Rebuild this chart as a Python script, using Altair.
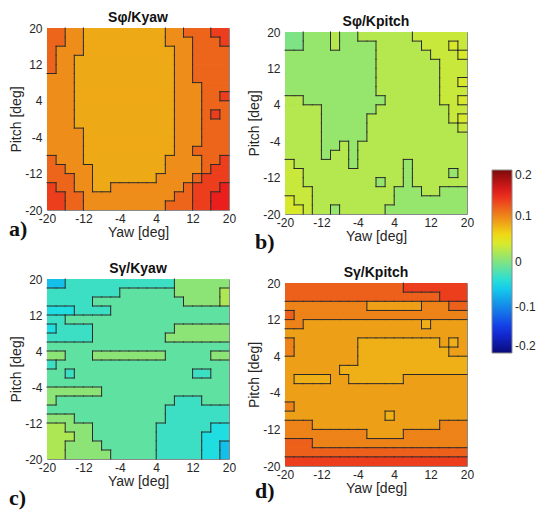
import altair as alt
import pandas as pd
from collections import Counter

YAW_TICKS = [-20, -12, -4, 4, 12, 20]
PITCH_TICKS = [-20, -12, -4, 4, 12, 20]
CBAR_TICKS = [-0.2, -0.1, 0, 0.1, 0.2]
TITLES = ["Sφ/Kyaw", "Sφ/Kpitch", "Sγ/Kyaw", "Sγ/Kpitch"]
LETTERS = ["a)", "b)", "c)", "d)"]

# contour levels (value of each band), one letter per band
A_LEVELS = {"D": 0.150, "R": 0.135, "r": 0.116, "o": 0.096, "y": 0.082}
B_LEVELS = {"G": -0.002, "g": 0.009, "h": 0.023, "k": 0.032, "m": 0.039}
C_LEVELS = {"B": -0.067, "a": -0.045, "b": -0.032, "c": -0.016, "e": 0.0045, "f": 0.020}
D_LEVELS = {"R": 0.135, "r": 0.118, "o": 0.101, "y": 0.087, "Y": 0.079}

# band of each 2x2 deg cell; rows from pitch +20 down to -20, columns yaw -20 .. +20
A_GRID = [
    "rrooyyyyyyyyyoorrrRR",
    "rrooyyyyyyyyyooorrrR",
    "roooyyyyyyyyyyoorrrr",
    "rooyyyyyyyyyyyoorrrr",
    "rooyyyyyyyyyyyoorrrr",
    "oooyyyyyyyyyyyoorrrr",
    "oooyyyyyyyyyyyooorrr",
    "oooyyyyyyyyyyyooorrR",
    "oooyyyyyyyyyyyooorrr",
    "oooyyyyyyyyyyyooorRr",
    "oooyyyyyyyyyyyooorrr",
    "ooooyyyyyyyyyyooorrr",
    "ooooyyyyyyyyyyooorrr",
    "ooooyyyyyyyyyyoorrrr",
    "roooyyyyyyyyyoooorrR",
    "rroooyyyyyyyyoooorRR",
    "rrrooyyyyyyyoooorRRR",
    "RrrooyyoooooooorRRRD",
    "RRrroooooooooorrRRDD",
    "RRrrooooooooorrrRRDD",
]
B_GRID = [
    "GGggghgghhhhhhkkkkkk",
    "GGggghgggghhhhhkkkmk",
    "gggggggggghhhhhhkkkm",
    "gggggggggghhhhhhhkkk",
    "gggggggggghhhhhhhkkk",
    "gggggggggghhhhhhhkkm",
    "gggggggggghhhhhhhkkk",
    "hhggggggggghhhhhhkkm",
    "hhhhgggggghhhhhhhhkk",
    "hhhhggggghhhhhhhhhkm",
    "hhhhggggghhhhhhhhhhk",
    "hhhhggggghhhhhhhhhhh",
    "hhhhgghghhhhhhhhhhhh",
    "hhhhghhghhhhhhhhhhhh",
    "khhhhhhghhhhhghhhhhh",
    "kkhhhhhhhhhhhghhhhgh",
    "kkhhhhhhhhghhghhhhhh",
    "kkkhhhhhhhhhggghhggg",
    "mkkhhhhhhhhhgggggggg",
    "mmkhhghhhhhggggggggg",
]
C_GRID = [
    "BBbbbbbbbbbbbbeeeeee",
    "bbbbbbbbcccccceeeeef",
    "bbbbbcccccccccceeeef",
    "aaabbbbccccccccccccc",
    "bbcccccccccccccccccc",
    "abbbbccccccccceeeeee",
    "bbbbbcccccccceeeeeee",
    "cccccccccccccccccccc",
    "eeccceeeeeeeecccccee",
    "bccccccccccccccccccc",
    "ccbcccccccccccccbbcc",
    "cccccccccccccccccccc",
    "eeeeeecccccccccccccc",
    "ecccccccccccccbbbccc",
    "cccccccccccccbbbbbbb",
    "eeeccccccccccbbbbbbb",
    "ffeeecccccccbbbbbbaa",
    "fffeecccccccbbbbbaaa",
    "ffeeeeccccccbbbbbaaB",
    "ffeeeeecccccbbbbbaaB",
]
D_GRID = [
    "rrrrrrrrrrrrrRRRRRRR",
    "rrrrrrrrrrrrrrrrrRRR",
    "oooooooooyyyyyyooorr",
    "rooooooooooooooooooo",
    "ooyyyyyyyyyyyyyYyyyy",
    "yyyyyyyyyyyyyyyyyyyy",
    "oyyyyyyyYYYYYYYYYyYy",
    "oyyyyyyyYYYYYYYYYYyy",
    "yyyyyyyyYYYYYYYYYYYY",
    "yyyyyyYYYYYYYYYYYYYY",
    "yYYYYyyYYYYYYyyyyyyy",
    "yyyyyyyyyyyyyyyyyyyy",
    "yyyyyyyyyyyyyyyyyyyy",
    "oyyyyyyyyyyyyyyyyyyy",
    "yyyyyyyyyyyYyyyyyyyy",
    "oooyyyyyyyyyyyyyyooo",
    "oooooooooyyyyooooooo",
    "rrrooooooooooooooooo",
    "rrrrrrrrrrrrrrrrrrrr",
    "RRRRRRRRRRRRRRRRRRRR",
]

JET_STOPS = [-0.2, -0.15, -0.05, 0.05, 0.15, 0.2]
JET_COLORS = ["#0a0a78", "#1430e6", "#14dceb", "#f0eb14", "#eb1e1e", "#7d0a0a"]

CELL = 2


def cells(grid, levels):
    rows = []
    for r, line in enumerate(grid):
        c = 0
        while c < len(line):
            code = line[c]
            c2 = c
            while c2 + 1 < len(line) and line[c2 + 1] == code:
                c2 += 1
            rows.append({
                "x0": -20 + CELL * c, "x1": -20 + CELL * (c2 + 1),
                "y0": 20 - CELL * r, "y1": 20 - CELL * (r + 1),
                "v": levels[code],
            })
            c = c2 + 1
    return pd.DataFrame(rows)


def base(grid, levels):
    # whole-panel backdrop in the most frequent band (hides seams between cells)
    code = Counter("".join(grid)).most_common(1)[0][0]
    return pd.DataFrame([{"x0": -20, "x1": 20, "y0": 20, "y1": -20, "v": levels[code]}])


def edges(grid):
    segs = []
    n = len(grid)
    m = len(grid[0])
    for r in range(n):
        for c in range(m):
            if c + 1 < m and grid[r][c] != grid[r][c + 1]:
                xv = -20 + CELL * (c + 1)
                segs.append({"x0": xv, "x1": xv, "y0": 20 - CELL * r, "y1": 20 - CELL * (r + 1)})
            if r + 1 < n and grid[r][c] != grid[r + 1][c]:
                yv = 20 - CELL * (r + 1)
                segs.append({"x0": -20 + CELL * c, "x1": -20 + CELL * (c + 1), "y0": yv, "y1": yv})
    return pd.DataFrame(segs)


FONT = "Liberation Sans"
TXT = "#262626"


def axis(title, values, label_pad, title_pad):
    return alt.Axis(values=values, title=title, ticks=False, domain=False, grid=False,
                    labelFont=FONT, titleFont=FONT, labelFontSize=12, titleFontSize=14,
                    titleFontWeight="normal", labelColor=TXT, titleColor=TXT,
                    labelPadding=label_pad, titlePadding=title_pad, labelFlush=False,
                    labelOverlap=False, labelExpr="'' + datum.value")


color_scale = alt.Scale(domain=JET_STOPS, range=JET_COLORS, interpolate="rgb")
legend = alt.Legend(type="gradient", orient="none", legendX=445, legendY=142, direction="vertical",
                    gradientLength=183, gradientThickness=20, title=None,
                    values=CBAR_TICKS, labelFont=FONT, labelFontSize=12, labelColor=TXT,
                    labelExpr="'' + datum.value", labelOffset=3,
                    gradientStrokeColor="#8a8a8a", gradientStrokeWidth=1)


def panel(i, grid, levels, w, h, lx, ly):
    xs = alt.Scale(domain=[-20, 20], nice=False, zero=False)
    ys = alt.Scale(domain=[-20, 20], nice=False, zero=False)
    X = alt.X("x0:Q", scale=xs, axis=axis("Yaw [deg]", YAW_TICKS, 3, 1))
    Y = alt.Y("y0:Q", scale=ys, axis=axis("Pitch [deg]", PITCH_TICKS, 5, 1))
    data = cells(grid, levels)
    enc = dict(x=X, x2="x1:Q", y=Y, y2="y1:Q",
               color=alt.Color("v:Q", scale=color_scale, legend=legend))
    back = alt.Chart(base(grid, levels)).mark_rect().encode(**enc)
    rect1 = alt.Chart(data).mark_rect().encode(**enc)
    rect2 = alt.Chart(data).mark_rect().encode(**enc)
    lines = alt.Chart(edges(grid)).mark_rule(color="#2a2a2a", strokeWidth=1, strokeCap="square").encode(
        x=X, x2="x1:Q", y=Y, y2="y1:Q"
    )
    letter = alt.Chart(pd.DataFrame({"t": [LETTERS[i]]})).mark_text(
        font="Liberation Serif", fontWeight="bold", fontSize=22, align="left",
        baseline="alphabetic", color="#111111"
    ).encode(x=alt.value(lx), y=alt.value(ly), text="t:N")
    return alt.layer(back, rect1, rect2, lines, letter).properties(
        width=w, height=h,
        title=alt.Title(TITLES[i], font=FONT, fontSize=14, fontWeight="bold", color="#111111", offset=-3),
    )


pa = panel(0, A_GRID, A_LEVELS, 182, 182, -38, 208)
pb = panel(1, B_GRID, B_LEVELS, 182, 182, -30, 217)
pc = panel(2, C_GRID, C_LEVELS, 182, 180, -38, 226)
pd_ = panel(3, D_GRID, D_LEVELS, 182, 183, -30, 215)

spacer = alt.Chart(pd.DataFrame({"s": [0]}), view=alt.ViewBackground(strokeOpacity=0)).mark_point(
    opacity=0).encode(x=alt.value(0), y=alt.value(0)).properties(width=1, height=1)

left = alt.vconcat(pa, pc, spacing=69, bounds="flush")
right = alt.vconcat(spacer, alt.vconcat(pb, pd_, spacing=69, bounds="flush"), spacing=3, bounds="flush")

chart = alt.hconcat(left, right, spacing=238, bounds="flush").resolve_scale(
    color="shared"
).properties(
    padding={"left": 8, "top": 10, "right": 0, "bottom": 0},
    background="white",
).configure_view(stroke="#8a8a8a", strokeWidth=1).configure_axis(labelOverlap=False)

chart.save("out.html", embed_options={"renderer": "svg", "actions": False})
